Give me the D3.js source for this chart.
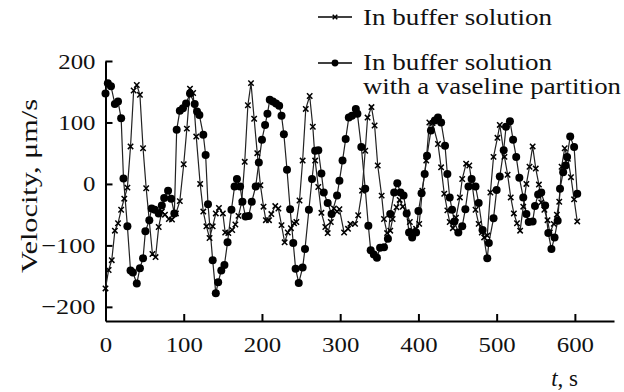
<!DOCTYPE html>
<html>
<head>
<meta charset="utf-8">
<script src="https://cdn.jsdelivr.net/npm/d3@7"></script>
<style>
  html, body { margin: 0; padding: 0; background: #fff; }
  svg { display: block; }
  text { font-family: "Liberation Serif", "Times New Roman", serif; fill: #111; }
</style>
</head>
<body>
<svg id="chart" width="624" height="392"></svg>
<script>
// ---- data ----
const bufferT = [0,4,8,12,16,20,24,28,32,36,40,44,48,52,60,64,68,72,76,81,85,90,95,100,104,108,112,116,121,125,129,133,137,141,145,150,153,157,162,166,170,174,178,182,186,190,194,198,202,205,209,212,217,221,225,229,233,237,241,244,248,252,256,261,265,268,272,276,281,284,288,292,296,299,305,310,313,319,323,328,332,335,340,344,348,353,356,360,364,367,372,376,380,385,389,392,397,401,405,410,414,418,425,429,433,437,440,444,448,453,456,461,465,469,473,477,481,484,488,492,496,501,504,510,514,518,522,526,530,534,538,542,546,550,554,557,561,565,568,573,577,580,583,587,591,595,599,603];
const bufferV = [-170,-140,-124,-76,-64,-42,-24,-6,61,152,161,145,58,-7,-114,-119,-70,-45,-50,-57,-58,-48,-28,32,90,155,148,77,0,-45,-69,-88,-69,-48,-39,-48,-79,-80,-75,-66,-52,-30,36,128,164,106,50,-2,-37,-59,-59,-49,-36,-40,-67,-95,-79,-72,-64,-62,-27,38,122,143,93,38,-5,-47,-70,-80,-62,-40,-45,-41,-79,-73,-65,-65,-51,-11,54,108,125,95,30,-19,-57,-80,-76,-57,-38,-26,-37,-46,-62,-76,-73,-65,-11,38,100,99,65,27,-16,-43,-62,-72,-55,-22,8,33,30,-4,-42,-65,-79,-87,-84,-14,44,75,96,44,15,-22,-48,-64,-76,-37,0,28,61,25,-1,-30,-42,-59,-79,-65,-50,-29,28,58,41,11,-25,-61];

const vaselineT = [0,3,7,12,16,20,23,28,32,35,40,44,48,51,56,59,63,68,72,75,80,84,88,91,95,99,103,108,114,117,120,125,128,131,137,141,144,148,152,156,161,165,168,172,175,179,183,187,192,196,200,204,207,210,214,218,222,225,228,232,236,240,243,247,252,255,260,264,268,272,276,279,284,289,296,299,303,307,311,315,320,322,327,332,336,339,343,347,351,356,361,364,369,373,377,381,385,388,392,397,400,404,408,411,416,421,425,429,434,437,440,443,446,451,456,460,464,468,473,477,482,488,490,496,500,504,509,512,517,521,525,529,534,538,541,546,549,553,557,562,566,570,574,578,581,585,588,590,594,599,603];
const vaselineV = [147,164,159,130,134,107,9,-69,-141,-144,-162,-137,-121,-77,-59,-40,-42,-48,-35,-23,-11,-24,-48,88,119,123,131,147,130,118,112,80,47,-33,-124,-178,-160,-141,-132,-95,-42,-4,8,-4,-29,-53,-52,-29,-4,35,72,96,114,137,134,131,127,111,81,23,-41,-96,-138,-161,-136,-106,-42,8,54,55,17,-14,-31,-49,-19,5,38,73,108,111,122,114,60,-8,-68,-108,-115,-120,-104,-103,-89,-49,-14,1,-14,-19,-48,-79,-87,-79,-44,-15,16,46,87,103,108,100,62,16,-22,-42,-61,-79,-69,-41,-4,8,-4,-31,-75,-121,-96,-56,-10,12,55,93,102,72,44,10,-22,-49,-62,-61,-36,-17,-14,-35,-80,-106,-87,-60,-8,19,30,44,77,60,-16];

const xTicks = [0, 100, 200, 300, 400, 500, 600];
const yTicks = [-200, -100, 0, 100, 200];
const legendLabels = ["In buffer solution", "In buffer solution", "with a vaseline partition"];
const xLabel = "t";
const xUnit = ", s";
const yLabel = "Velocity, \u03bcm/s";

// ---- layout ----
const svg = d3.select("#chart");
const x = d3.scaleLinear().domain([0, 650]).range([105.5, 614]);
const y = d3.scaleLinear().domain([-223, 200]).range([321, 61]);

function stretch(sel, perChar) {
  sel.each(function () {
    const t = this.textContent;
    let w = 0;
    for (const c of t) w += (c === "\u2212") ? 17 : perChar;
    d3.select(this).attr("textLength", w).attr("lengthAdjust", "spacingAndGlyphs");
  });
}

// axes
const xAxis = svg.append("g").attr("transform", `translate(0,${y(-223)})`)
  .call(d3.axisBottom(x).tickValues(xTicks).tickSize(-7).tickSizeOuter(0).tickPadding(15));
const yAxis = svg.append("g").attr("transform", `translate(${x(0)},0)`)
  .call(d3.axisLeft(y).tickValues(yTicks).tickSize(-7).tickSizeOuter(0).tickPadding(10));

[xAxis, yAxis].forEach(g => {
  g.select(".domain").attr("stroke", "#000").attr("stroke-width", 2);
  g.selectAll(".tick line").attr("stroke", "#000").attr("stroke-width", 2);
  g.selectAll(".tick text").attr("font-size", 22).attr("fill", "#111")
    .style("font-family", '"Liberation Serif", serif');
  stretch(g.selectAll(".tick text"), 12.4);
});

// axis titles
const xt = svg.append("text").attr("x", 578).attr("y", 386).attr("text-anchor", "end")
  .attr("font-size", 23);
xt.append("tspan").attr("font-style", "italic").text(xLabel);
xt.append("tspan").text(xUnit);

svg.append("text")
  .attr("transform", `translate(37,186) rotate(-90)`)
  .attr("text-anchor", "middle").attr("font-size", 24)
  .attr("textLength", 174).attr("lengthAdjust", "spacingAndGlyphs")
  .text(yLabel);

// series
const line = d3.line().x(d => x(d[0])).y(d => y(d[1]));
const bufferData = bufferT.map((t, i) => [t, bufferV[i]]);
const vaselineData = vaselineT.map((t, i) => [t, vaselineV[i]]);

const plot = svg.append("g");
plot.append("path").datum(bufferData).attr("d", line)
  .attr("fill", "none").attr("stroke", "#222").attr("stroke-width", 1.2);
plot.append("path").datum(vaselineData).attr("d", line)
  .attr("fill", "none").attr("stroke", "#222").attr("stroke-width", 1.2);

function cross(g, cx, cy, s) {
  g.append("path")
    .attr("d", `M${cx - s},${cy - s}L${cx + s},${cy + s}M${cx - s},${cy + s}L${cx + s},${cy - s}`)
    .attr("stroke", "#000").attr("stroke-width", 1.5).attr("fill", "none");
}
bufferData.forEach(d => cross(plot, x(d[0]), y(d[1]), 2.7));
plot.selectAll("circle.v").data(vaselineData).join("circle").attr("class", "v")
  .attr("cx", d => x(d[0])).attr("cy", d => y(d[1])).attr("r", 4).attr("fill", "#000");

// legend
const lg = svg.append("g");
lg.append("line").attr("x1", 318).attr("x2", 352).attr("y1", 17).attr("y2", 17)
  .attr("stroke", "#000").attr("stroke-width", 1.3);
cross(lg, 335, 17, 2.3);
lg.append("line").attr("x1", 318).attr("x2", 352).attr("y1", 63).attr("y2", 63)
  .attr("stroke", "#000").attr("stroke-width", 1.3);
lg.append("circle").attr("cx", 335).attr("cy", 63).attr("r", 3.4).attr("fill", "#000");

const legPos = [[363, 25, 189], [363, 70, 189], [363, 94, 258]];
legendLabels.forEach((t, i) => {
  lg.append("text").attr("x", legPos[i][0]).attr("y", legPos[i][1])
    .attr("font-size", 24).attr("textLength", legPos[i][2])
    .attr("lengthAdjust", "spacingAndGlyphs").text(t);
});
</script>
</body>
</html>
